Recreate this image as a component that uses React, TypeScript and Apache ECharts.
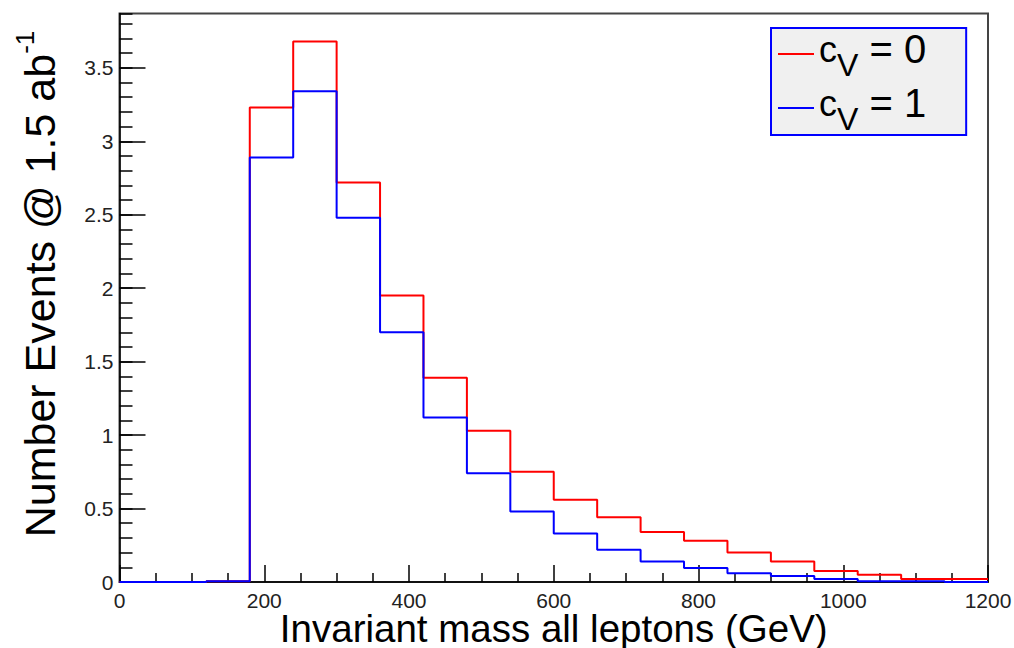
import React, { useEffect, useRef } from "react";
import * as echarts from "echarts";

const binEdges = [0, 60, 120, 180, 240, 300, 360, 420, 480, 540, 600, 660, 720, 780, 840, 900, 960, 1020, 1080, 1140, 1200];
const redCounts = [0, 0, 0.005, 3.23, 3.68, 2.72, 1.95, 1.39, 1.03, 0.75, 0.56, 0.44, 0.34, 0.28, 0.2, 0.14, 0.075, 0.05, 0.02, 0.02];
const blueCounts = [0, 0, 0.005, 2.89, 3.34, 2.48, 1.7, 1.12, 0.74, 0.48, 0.33, 0.22, 0.14, 0.095, 0.06, 0.04, 0.02, 0.005, 0.005, 0];
const seriesNames = ["cV = 0", "cV = 1"];
const legendLabels = ["{c|c}{v|V}{e| = 0}", "{c|c}{v|V}{e| = 1}"];
const xTitle = "Invariant mass all leptons (GeV)";
const yTitle = "Number Events @ 1.5 ab{sup|-1}";

const FONT = "'Liberation Sans', Arial, Helvetica, sans-serif";

function stepData(counts: number[]) {
  return binEdges.map((e, i) => [e, counts[Math.min(i, counts.length - 1)]]);
}

export default function App() {
  const ref = useRef<HTMLDivElement>(null);
  useEffect(() => {
    if (!ref.current) return;
    const chart = echarts.init(ref.current, null, { renderer: "svg" });
    const yMax = 3.87;
    chart.setOption({
      animation: false,
      backgroundColor: "#ffffff",
      textStyle: { fontFamily: FONT },
      grid: {
        left: 119.5,
        right: 26,
        top: 13.5,
        bottom: 66,
        containLabel: false,
        outerBoundsMode: "none",
        show: true,
        borderColor: "#444444",
        borderWidth: 2,
        backgroundColor: "transparent",
      },
      legend: {
        orient: "vertical",
        left: 771,
        top: 28,
        padding: [1, 40, 0, 7],
        itemGap: 2,
        itemWidth: 36,
        itemHeight: 2,
        icon: "rect",
        backgroundColor: "#f0f0f0",
        borderColor: "#0000ff",
        borderWidth: 2,
        borderRadius: 0,
        data: seriesNames,
        formatter: (name: string) => legendLabels[seriesNames.indexOf(name)],
        textStyle: {
          fontFamily: FONT,
          color: "#000",
          rich: {
            c: { fontSize: 36, padding: [0, 0, 10, 0], fontFamily: FONT, color: "#000" },
            v: { fontSize: 32, padding: [22, 0, 0, 0], fontFamily: FONT, color: "#000" },
            e: { fontSize: 40, padding: [0, 0, 10, 0], fontFamily: FONT, color: "#000" },
          },
        },
      },
      xAxis: {
        type: "value",
        min: 0,
        max: 1200,
        interval: 200,
        name: xTitle,
        nameLocation: "middle",
        nameGap: 30,
        nameMoveOverlap: false,
        nameTextStyle: { fontSize: 38.5, lineHeight: 32, color: "#000", fontFamily: FONT },
        axisLine: { show: true, onZero: false, lineStyle: { color: "#000", width: 1.5 } },
        axisTick: { show: true, inside: true, length: 17, lineStyle: { color: "#000", width: 1.5 } },
        minorTick: { show: true, splitNumber: 4, length: 9, lineStyle: { color: "#000", width: 1.5 } },
        axisLabel: { fontSize: 21, lineHeight: 18, color: "#222", margin: 9, fontFamily: FONT, formatter: (v: number) => String(v) },
        splitLine: { show: false },
      },
      yAxis: [
        {
          type: "value",
          min: 0,
          max: yMax,
          interval: 0.5,
          axisLine: { show: true, onZero: false, lineStyle: { color: "#000", width: 1.5 } },
          axisTick: { show: true, inside: true, length: 26, lineStyle: { color: "#000", width: 1.5 } },
          axisLabel: { fontSize: 21, color: "#222", margin: 6, showMaxLabel: false, fontFamily: FONT },
          splitLine: { show: false },
        },
        {
          type: "value",
          position: "left",
          min: 0,
          max: yMax,
          interval: 0.1,
          axisLine: { show: false },
          axisTick: { show: true, inside: true, length: 13, lineStyle: { color: "#000", width: 1.5 } },
          axisLabel: { show: false },
          splitLine: { show: false },
        },
      ],
      graphic: [
        {
          type: "text",
          x: 40,
          y: 284,
          rotation: Math.PI / 2,
          style: {
            text: yTitle,
            align: "center",
            verticalAlign: "middle",
            fontSize: 43,
            fontFamily: FONT,
            fill: "#000",
            lineHeight: 50,
            rich: {
              sup: { fontSize: 26, lineHeight: 20, padding: [0, 0, 30, 0], fontFamily: FONT, fill: "#000" },
            },
          },
        },
      ],
      series: [
        {
          name: seriesNames[0],
          type: "line",
          step: "end",
          symbol: "none",
          data: stepData(redCounts),
          lineStyle: { color: "#ff0000", width: 2 },
          itemStyle: { color: "#ff0000" },
          yAxisIndex: 0,
        },
        {
          name: seriesNames[1],
          type: "line",
          step: "end",
          symbol: "none",
          data: stepData(blueCounts),
          lineStyle: { color: "#0000ff", width: 2 },
          itemStyle: { color: "#0000ff" },
          yAxisIndex: 0,
        },
      ],
    });
    return () => chart.dispose();
  }, []);
  return <div ref={ref} style={{ width: 1014, height: 648, position: "absolute", left: 0, top: 0 }} />;
}
